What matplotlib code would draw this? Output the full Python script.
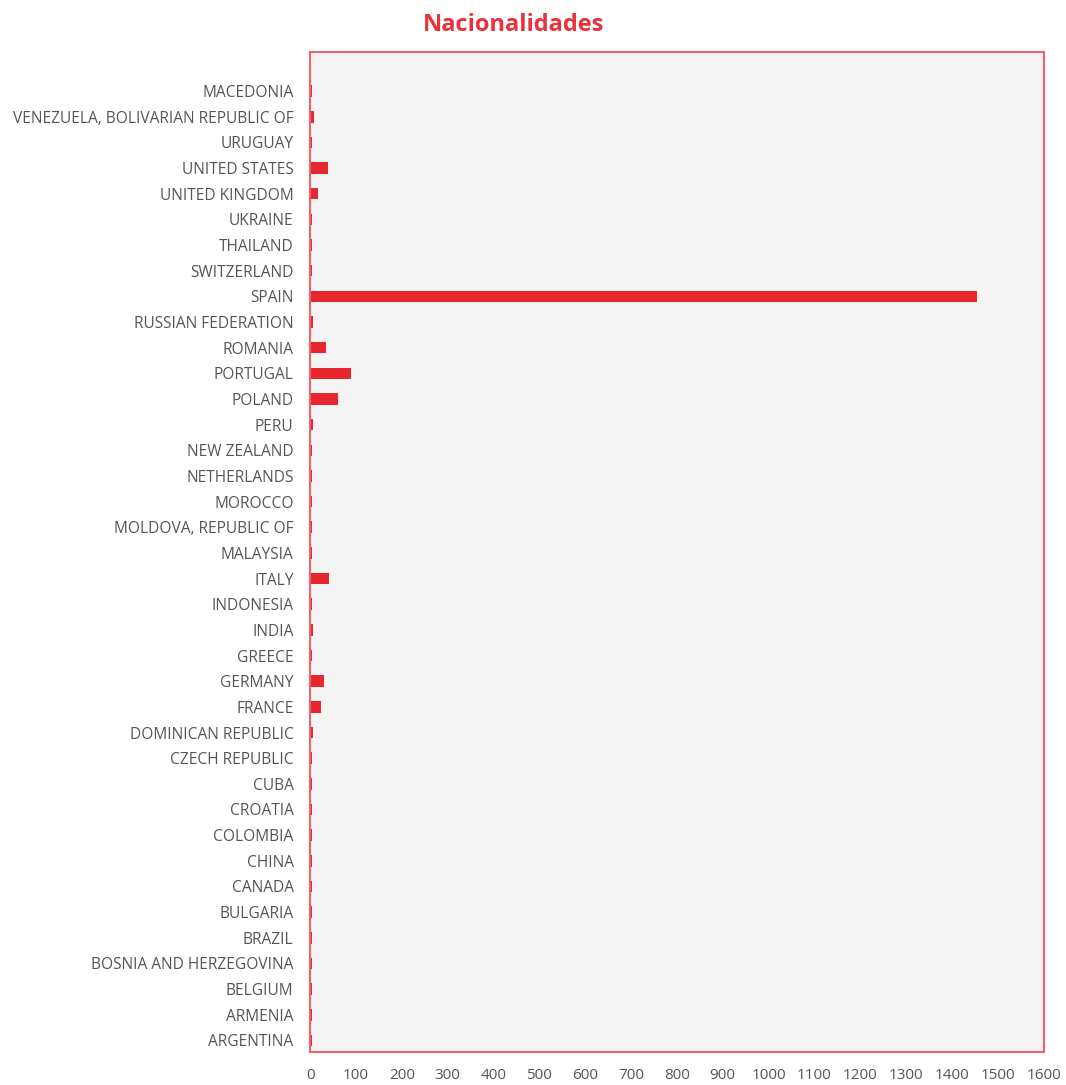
import matplotlib
matplotlib.use("Agg")
import matplotlib.pyplot as plt

countries = ["ARGENTINA", "ARMENIA", "BELGIUM", "BOSNIA AND HERZEGOVINA", "BRAZIL",
             "BULGARIA", "CANADA", "CHINA", "COLOMBIA", "CROATIA", "CUBA",
             "CZECH REPUBLIC", "DOMINICAN REPUBLIC", "FRANCE", "GERMANY", "GREECE",
             "INDIA", "INDONESIA", "ITALY", "MALAYSIA", "MOLDOVA, REPUBLIC OF",
             "MOROCCO", "NETHERLANDS", "NEW ZEALAND", "PERU", "POLAND", "PORTUGAL",
             "ROMANIA", "RUSSIAN FEDERATION", "SPAIN", "SWITZERLAND", "THAILAND",
             "UKRAINE", "UNITED KINGDOM", "UNITED STATES", "URUGUAY",
             "VENEZUELA, BOLIVARIAN REPUBLIC OF", "MACEDONIA"]
values = [5, 3, 3, 3, 3,
          3, 3, 3, 5, 3, 3,
          4, 6, 24, 31, 4,
          6, 3, 40, 5, 3,
          3, 3, 3, 6, 60, 89,
          34, 6, 1455, 3, 3,
          3, 18, 39, 3,
          8, 3]
xticks = list(range(0, 1700, 100))

fig = plt.figure(figsize=(10.66, 10.85), dpi=100)
ax = fig.add_axes([0.291, 0.030, 0.688, 0.922])
ax.set_facecolor("#f4f4f5")
ax.barh(range(len(countries)), values, height=0.45, color="#e8262e")
ax.set_yticks(range(len(countries)))
ax.set_yticklabels(countries, fontsize=11.2, color="#555555", family="Open Sans")
ax.set_xticks(xticks)
ax.set_xticklabels([str(t) for t in xticks], fontsize=11, color="#555555", family="Open Sans")
ax.set_xlim(0, 1600)
ax.set_ylim(-0.47, len(countries) - 1 + 1.52)
ax.tick_params(axis="both", length=0)
ax.tick_params(axis="y", pad=12)
ax.tick_params(axis="x", pad=11)
for s in ax.spines.values():
    s.set_color("#ec6472")
    s.set_linewidth(1.5)
fig.text(0.482, 0.977, "Nacionalidades", ha="center", va="center",
         fontsize=17, fontweight="bold", color="#e8323c", family="Open Sans")
fig.savefig("out.png", dpi=100)
